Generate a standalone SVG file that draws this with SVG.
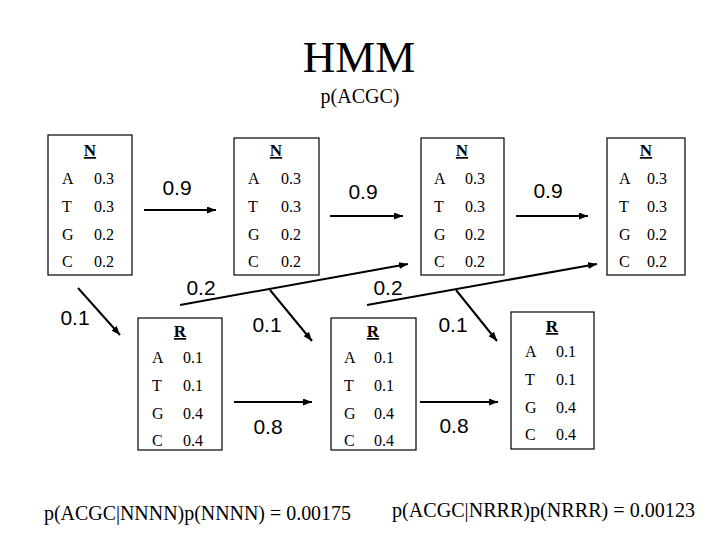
<svg xmlns="http://www.w3.org/2000/svg" width="720" height="540" viewBox="0 0 720 540">
<style>
.box{fill:#fff;stroke:#000;stroke-width:1.2}
.t{font-family:"Liberation Serif","Times New Roman",serif;font-size:16px;fill:#000}
.h{font-family:"Liberation Serif","Times New Roman",serif;font-size:17px;font-weight:bold;text-decoration:underline;fill:#000;text-anchor:middle}
.lbl{font-family:"Liberation Sans",Arial,sans-serif;font-size:21px;fill:#000;text-anchor:middle}
.ln{stroke:#000;stroke-width:2;fill:none}
.ar{marker-end:url(#ah)}
</style>
<defs>
<marker id="ah" markerUnits="userSpaceOnUse" markerWidth="10" markerHeight="8" refX="9" refY="3.5" orient="auto">
<path d="M0,0 L9,3.5 L0,7 z" fill="#000"/>
</marker>
</defs>
<rect width="720" height="540" fill="#fff"/>
<text x="359" y="72" text-anchor="middle" font-family="Liberation Serif,Times New Roman,serif" font-size="45">HMM</text>
<text x="360" y="103" text-anchor="middle" font-family="Liberation Serif,Times New Roman,serif" font-size="20">p(ACGC)</text>

<g id="connectors">
<line class="ln ar" x1="144" y1="210" x2="216" y2="210"/>
<line class="ln ar" x1="330" y1="216" x2="403" y2="216"/>
<line class="ln ar" x1="516" y1="216" x2="588" y2="216"/>
<line class="ln ar" x1="78" y1="288" x2="120" y2="335"/>
<line class="ln ar" x1="180" y1="305" x2="408" y2="264"/>
<line class="ln ar" x1="367" y1="305" x2="597" y2="264"/>
<line class="ln ar" x1="270" y1="290" x2="312" y2="341"/>
<line class="ln ar" x1="456" y1="290" x2="497" y2="341"/>
<line class="ln ar" x1="234" y1="402" x2="312" y2="402"/>
<line class="ln ar" x1="420" y1="402" x2="498" y2="402"/>
<text class="lbl" x="177" y="195">0.9</text>
<text class="lbl" x="363" y="199">0.9</text>
<text class="lbl" x="548" y="198">0.9</text>
<text class="lbl" x="75" y="325">0.1</text>
<text class="lbl" x="201" y="295">0.2</text>
<text class="lbl" x="388" y="295">0.2</text>
<text class="lbl" x="267" y="332">0.1</text>
<text class="lbl" x="453" y="332">0.1</text>
<text class="lbl" x="268" y="434">0.8</text>
<text class="lbl" x="454" y="433">0.8</text>
</g>

<g id="N1">
<rect class="box" x="48" y="135" width="84" height="140"/>
<text class="h" x="90" y="156">N</text>
<text class="t" x="62" y="184">A</text><text class="t" x="94" y="184">0.3</text>
<text class="t" x="62" y="212">T</text><text class="t" x="94" y="212">0.3</text>
<text class="t" x="62" y="240">G</text><text class="t" x="94" y="240">0.2</text>
<text class="t" x="62" y="267">C</text><text class="t" x="94" y="267">0.2</text>
</g>
<g id="N2">
<rect class="box" x="234" y="138" width="85" height="137"/>
<text class="h" x="276" y="156">N</text>
<text class="t" x="248" y="184">A</text><text class="t" x="281" y="184">0.3</text>
<text class="t" x="248" y="212">T</text><text class="t" x="281" y="212">0.3</text>
<text class="t" x="248" y="240">G</text><text class="t" x="281" y="240">0.2</text>
<text class="t" x="248" y="267">C</text><text class="t" x="281" y="267">0.2</text>
</g>
<g id="N3">
<rect class="box" x="421" y="138" width="83" height="137"/>
<text class="h" x="462" y="156">N</text>
<text class="t" x="434" y="184">A</text><text class="t" x="465" y="184">0.3</text>
<text class="t" x="434" y="212">T</text><text class="t" x="465" y="212">0.3</text>
<text class="t" x="434" y="240">G</text><text class="t" x="465" y="240">0.2</text>
<text class="t" x="434" y="267">C</text><text class="t" x="465" y="267">0.2</text>
</g>
<g id="N4">
<rect class="box" x="607" y="138" width="78" height="137"/>
<text class="h" x="646" y="156">N</text>
<text class="t" x="619" y="184">A</text><text class="t" x="647" y="184">0.3</text>
<text class="t" x="619" y="212">T</text><text class="t" x="647" y="212">0.3</text>
<text class="t" x="619" y="240">G</text><text class="t" x="647" y="240">0.2</text>
<text class="t" x="619" y="267">C</text><text class="t" x="647" y="267">0.2</text>
</g>
<g id="R1">
<rect class="box" x="138" y="318" width="84" height="132"/>
<text class="h" x="180" y="337">R</text>
<text class="t" x="152" y="363">A</text><text class="t" x="183" y="363">0.1</text>
<text class="t" x="152" y="391">T</text><text class="t" x="183" y="391">0.1</text>
<text class="t" x="152" y="419">G</text><text class="t" x="183" y="419">0.4</text>
<text class="t" x="152" y="446">C</text><text class="t" x="183" y="446">0.4</text>
</g>
<g id="R2">
<rect class="box" x="331" y="318" width="85" height="132"/>
<text class="h" x="373" y="337">R</text>
<text class="t" x="344" y="363">A</text><text class="t" x="374" y="363">0.1</text>
<text class="t" x="344" y="391">T</text><text class="t" x="374" y="391">0.1</text>
<text class="t" x="344" y="419">G</text><text class="t" x="374" y="419">0.4</text>
<text class="t" x="344" y="446">C</text><text class="t" x="374" y="446">0.4</text>
</g>
<g id="R3">
<rect class="box" x="511" y="312" width="83" height="137"/>
<text class="h" x="552" y="332">R</text>
<text class="t" x="525" y="357">A</text><text class="t" x="556" y="357">0.1</text>
<text class="t" x="525" y="385">T</text><text class="t" x="556" y="385">0.1</text>
<text class="t" x="525" y="413">G</text><text class="t" x="556" y="413">0.4</text>
<text class="t" x="525" y="440">C</text><text class="t" x="556" y="440">0.4</text>
</g>

<text x="44" y="520" font-family="Liberation Serif,Times New Roman,serif" font-size="21" textLength="307" lengthAdjust="spacingAndGlyphs">p(ACGC|NNNN)p(NNNN) = 0.00175</text>
<text x="392" y="517" font-family="Liberation Serif,Times New Roman,serif" font-size="21" textLength="303" lengthAdjust="spacingAndGlyphs">p(ACGC|NRRR)p(NRRR) = 0.00123</text>
</svg>
